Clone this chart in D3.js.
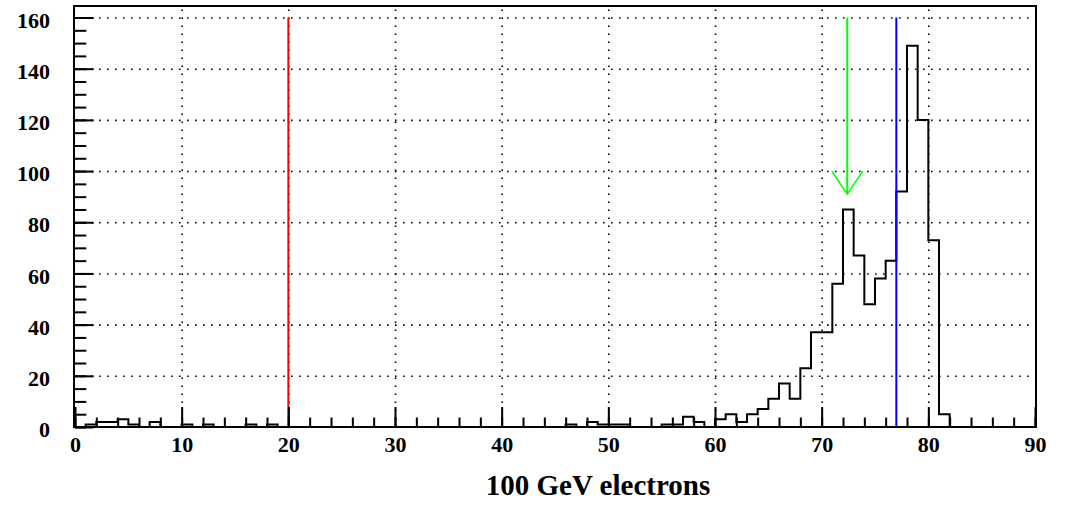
<!DOCTYPE html>
<html>
<head>
<meta charset="utf-8">
<script src="https://cdn.jsdelivr.net/npm/d3@7/dist/d3.min.js"></script>
<style>
  html, body { margin: 0; padding: 0; background: #ffffff; }
  svg { display: block; }
  .lbl { font-family: "Liberation Serif", "Times New Roman", serif; font-weight: bold; fill: #000; }
</style>
</head>
<body>
<svg id="chart" width="1066" height="507"></svg>
<script>
// Histogram: 90 bins of width 1 from 0 to 90
const binLow = 0;
const binWidth = 1;
const counts = [
  0, 1, 2, 2, 3, 1, 0, 2, 0, 0,       // 0-9
  1, 0, 1, 0, 0, 0, 1, 0, 1, 0,       // 10-19
  0, 0, 0, 0, 0, 0, 0, 0, 0, 0,       // 20-29
  0, 0, 0, 0, 0, 0, 0, 0, 0, 0,       // 30-39
  0, 0, 0, 0, 0, 0, 1, 0, 2, 1,       // 40-49
  1, 1, 0, 0, 0, 1, 1, 4, 2, 0,       // 50-59
  3, 5, 2, 5, 7, 11, 17, 11, 23, 37,  // 60-69
  37, 56, 85, 67, 48, 58, 65, 92, 149, 120, // 70-79
  73, 5, 0, 0, 0, 0, 0, 0, 0, 0       // 80-89
];

// Axis ranges and tick labels
const xDomain = [0, 90];
const yDomain = [0, 164.5];
const xMajorTicks = [0, 10, 20, 30, 40, 50, 60, 70, 80, 90];
const xMinorTicks = d3.range(0, 91, 2);
const yMajorTicks = [0, 20, 40, 60, 80, 100, 120, 140, 160];
const yMinorTicks = d3.range(0, 161, 5);
const xTitle = "100 GeV electrons";

// Marker lines: red cut, blue cut, green arrow
const redCutX = 20;
const blueCutX = 77;
const markerTop = 160;
const arrowX = 72.4;
const arrowTip = 91;
const arrowWingY = 100;
const arrowWingHalf = 1.45;

const svg = d3.select("#chart");
const frameLeft = 75, frameRight = 1035, frameTop = 6, frameBottom = 427;
const x = d3.scaleLinear().domain(xDomain).range([frameLeft, frameRight]);
const y = d3.scaleLinear().domain(yDomain).range([frameBottom, frameTop]);

const fontSize = 22;

// dotted grid
const gridStyle = g => {
  g.select(".domain").remove();
  g.selectAll("line").attr("stroke", "#000").attr("stroke-width", 1.6)
    .attr("stroke-dasharray", "1.6,6.4");
  g.selectAll("text").remove();
};
svg.append("g")
  .attr("transform", `translate(0,${frameBottom})`)
  .call(d3.axisBottom(x).tickValues(xMajorTicks.filter(v => v > xDomain[0] && v < xDomain[1]))
    .tickSize(-(frameBottom - frameTop)).tickFormat(""))
  .call(gridStyle);
svg.append("g")
  .attr("transform", `translate(${frameLeft},0)`)
  .call(d3.axisLeft(y).tickValues(yMajorTicks.filter(v => v > 0))
    .tickSize(-(frameRight - frameLeft)).tickFormat(""))
  .call(gridStyle);

// histogram outline
const pts = [[x(binLow), y(0)]];
counts.forEach((c, i) => {
  const x0 = x(binLow + i * binWidth), x1 = x(binLow + (i + 1) * binWidth);
  pts.push([x0, y(c)], [x1, y(c)]);
});
pts.push([x(binLow + counts.length * binWidth), y(0)]);
svg.append("path")
  .attr("d", d3.line()(pts))
  .attr("fill", "none").attr("stroke", "#000").attr("stroke-width", 2)
  .attr("stroke-linejoin", "miter");

// vertical cut lines
svg.append("line")
  .attr("x1", x(redCutX)).attr("x2", x(redCutX))
  .attr("y1", y(0)).attr("y2", y(markerTop))
  .attr("stroke", "#ff0000").attr("stroke-width", 2);
svg.append("line")
  .attr("x1", x(blueCutX)).attr("x2", x(blueCutX))
  .attr("y1", y(0)).attr("y2", y(markerTop))
  .attr("stroke", "#0000ff").attr("stroke-width", 2);

// green arrow pointing at the peak
const arrow = svg.append("g").attr("stroke", "#00ff00").attr("fill", "none");
arrow.append("line")
  .attr("x1", x(arrowX)).attr("x2", x(arrowX))
  .attr("y1", y(markerTop)).attr("y2", y(arrowTip))
  .attr("stroke-width", 2);
arrow.append("path")
  .attr("d", d3.line()([
    [x(arrowX - arrowWingHalf), y(arrowWingY)],
    [x(arrowX), y(arrowTip)],
    [x(arrowX + arrowWingHalf), y(arrowWingY)]
  ]))
  .attr("stroke-width", 1.6);

// frame
svg.append("rect")
  .attr("x", frameLeft - 1).attr("y", frameTop)
  .attr("width", frameRight - frameLeft + 2).attr("height", frameBottom - frameTop)
  .attr("fill", "none").attr("stroke", "#000").attr("stroke-width", 2);

// x axis: minor and major ticks pointing inward, labels below
svg.append("g")
  .attr("transform", `translate(0,${frameBottom})`)
  .call(d3.axisBottom(x).tickValues(xMinorTicks).tickSize(-9.5).tickFormat(""))
  .call(g => { g.select(".domain").remove(); g.selectAll("line").attr("stroke-width", 2); });
svg.append("g")
  .attr("transform", `translate(0,${frameBottom})`)
  .call(d3.axisBottom(x).tickValues(xMajorTicks).tickSize(-20).tickPadding(9)
    .tickFormat(d3.format("d")))
  .call(g => {
    g.select(".domain").remove();
    g.selectAll("line").attr("stroke-width", 2);
    g.selectAll("text").attr("class", "lbl").attr("font-size", fontSize)
      .attr("font-family", null);
  });

// y axis: minor and major ticks pointing inward, labels left
svg.append("g")
  .attr("transform", `translate(${frameLeft},0)`)
  .call(d3.axisLeft(y).tickValues(yMinorTicks).tickSize(-11.3).tickFormat(""))
  .call(g => { g.select(".domain").remove(); g.selectAll("line").attr("stroke-width", 2); });
svg.append("g")
  .attr("transform", `translate(${frameLeft},0)`)
  .call(d3.axisLeft(y).tickValues(yMajorTicks).tickSize(-18.7).tickPadding(25)
    .tickFormat(d3.format("d")))
  .call(g => {
    g.select(".domain").remove();
    g.selectAll("line").attr("stroke-width", 2);
    g.selectAll("text").attr("class", "lbl").attr("font-size", fontSize)
      .attr("font-family", null).attr("dy", "0.44em");
  });

// axis title
svg.append("text")
  .attr("class", "lbl")
  .attr("x", 598).attr("y", 495)
  .attr("text-anchor", "middle")
  .attr("font-size", 29)
  .text(xTitle);
</script>
</body>
</html>
